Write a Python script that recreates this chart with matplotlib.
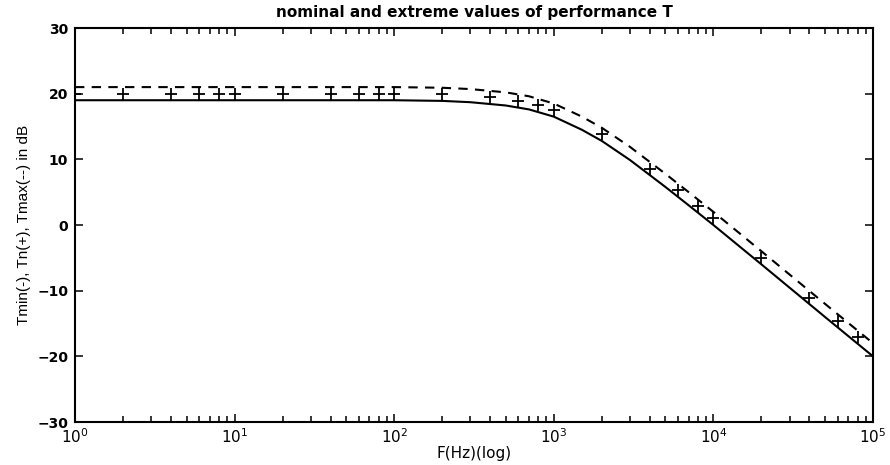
import matplotlib
matplotlib.use("Agg")
import matplotlib.pyplot as plt
from matplotlib.ticker import LogLocator, FixedLocator, NullFormatter

plt.rcParams['font.family'] = ['DejaVu Sans']
plt.rcParams['mathtext.fontset'] = 'dejavusans'

# frequencies (Hz) for the curves
freq = [1, 2, 5, 10, 20, 50, 100, 200, 300, 500, 700, 1000, 1500, 2000,
        3000, 5000, 7000, 10000, 20000, 50000, 100000]
# Tmin (solid) in dB
t_min = [19.0, 19.0, 19.0, 19.0, 19.0, 19.0, 19.0, 18.9, 18.7, 18.2, 17.6,
         16.5, 14.5, 12.8, 9.9, 5.8, 3.0, 0.0, -6.0, -14.0, -20.0]
# Tmax (dashed) in dB
t_max = [21.0, 21.0, 21.0, 21.0, 21.0, 21.0, 21.0, 20.9, 20.7, 20.2, 19.6,
         18.5, 16.5, 14.8, 11.9, 7.8, 5.0, 2.0, -4.0, -12.0, -18.0]

# Tn (+ markers)
freq_n = [1, 2, 4, 6, 8, 10, 20, 40, 60, 80, 100, 200, 400, 600, 800, 1000,
          2000, 4000, 6000, 8000, 10000, 20000, 40000, 60000, 80000]
t_n = [20.0, 20.0, 20.0, 20.0, 20.0, 20.0, 20.0, 20.0, 20.0, 20.0, 20.0, 19.9,
       19.5, 18.9, 18.2, 17.5, 13.8, 8.6, 5.3, 2.9, 1.0, -5.0, -11.1, -14.6,
       -17.1]

y_ticks = [-30, -20, -10, 0, 10, 20, 30]
y_labels = ['\u221230', '\u221220', '\u221210', '0', '10', '20', '30']
x_ticks = [1, 10, 100, 1000, 10000, 100000]
x_labels = [r'$10^{0}$', r'$10^{1}$', r'$10^{2}$', r'$10^{3}$', r'$10^{4}$', r'$10^{5}$']

fig = plt.figure(figsize=(8.9, 4.65), dpi=100)
ax = fig.add_axes([75 / 890, 1 - 422 / 465, (873 - 75) / 890, (422 - 28) / 465])

ax.plot(freq, t_min, color='black', lw=1.5, ls='-')
ax.plot(freq, t_max, color='black', lw=1.5, ls=(0, (4.5, 3.5)))
ax.plot(freq_n, t_n, ls='none', marker='+', color='black', ms=8, mew=1.3)

ax.set_xscale('log')
ax.set_xlim(1, 1e5)
ax.set_ylim(-30, 30)
ax.yaxis.set_major_locator(FixedLocator(y_ticks))
ax.set_yticklabels(y_labels, fontweight='bold', fontsize=10)
ax.xaxis.set_major_locator(FixedLocator(x_ticks))
ax.set_xticklabels(x_labels, fontsize=11)
ax.xaxis.set_minor_locator(LogLocator(base=10, subs=[2, 3, 4, 5, 6, 7, 8, 9],
                                      numticks=60))
ax.xaxis.set_minor_formatter(NullFormatter())

ax.tick_params(which='both', direction='in', top=True, right=True, width=1.1)
ax.tick_params(which='major', length=6, pad=5)
ax.tick_params(which='minor', length=4)
ax.tick_params(axis='x', which='major', pad=4)
for s in ax.spines.values():
    s.set_linewidth(1.5)

ax.set_title('nominal and extreme values of performance T', fontsize=11,
             fontweight='bold', pad=8)
ax.set_xlabel('F(Hz)(log)', fontsize=11, labelpad=0)
ax.set_ylabel('Tmin(-), Tn(+), Tmax(--) in dB', fontsize=11, labelpad=4,
              family=['Liberation Sans', 'DejaVu Sans'])

fig.savefig('out.png', dpi=100)
